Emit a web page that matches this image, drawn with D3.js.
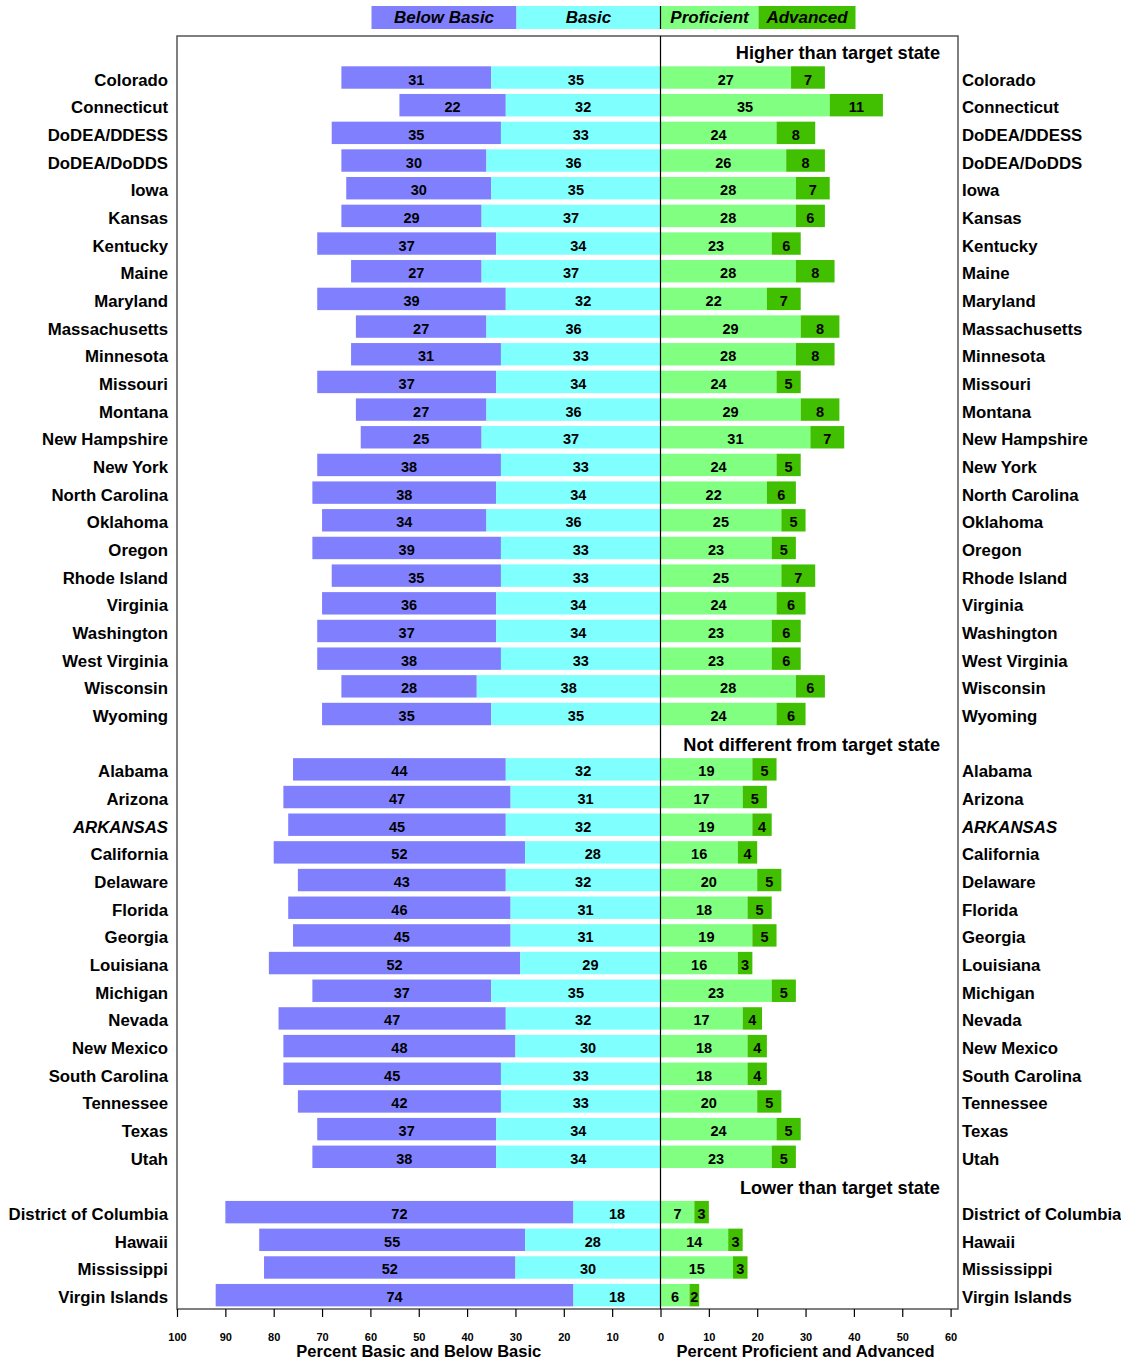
<!DOCTYPE html>
<html>
<head>
<meta charset="utf-8">
<script src="https://cdn.jsdelivr.net/npm/d3@7"></script>
<style>
  html, body { margin: 0; padding: 0; background: #fff; }
  svg { display: block; font-family: "Liberation Sans", Arial, sans-serif; }
</style>
</head>
<body>
<svg id="chart" width="1121" height="1361"></svg>
<script>
// Achievement levels, one row per jurisdiction: Below Basic, Basic, Proficient, Advanced (percent)
const groupTitles = ["Higher than target state", "Not different from target state", "Lower than target state"];

const higherStates = ["Colorado", "Connecticut", "DoDEA/DDESS", "DoDEA/DoDDS", "Iowa", "Kansas", "Kentucky", "Maine",
  "Maryland", "Massachusetts", "Minnesota", "Missouri", "Montana", "New Hampshire", "New York", "North Carolina",
  "Oklahoma", "Oregon", "Rhode Island", "Virginia", "Washington", "West Virginia", "Wisconsin", "Wyoming"];
const higherBelowBasic = [31, 22, 35, 30, 30, 29, 37, 27, 39, 27, 31, 37, 27, 25, 38, 38, 34, 39, 35, 36, 37, 38, 28, 35];
const higherBasic      = [35, 32, 33, 36, 35, 37, 34, 37, 32, 36, 33, 34, 36, 37, 33, 34, 36, 33, 33, 34, 34, 33, 38, 35];
const higherProficient = [27, 35, 24, 26, 28, 28, 23, 28, 22, 29, 28, 24, 29, 31, 24, 22, 25, 23, 25, 24, 23, 23, 28, 24];
const higherAdvanced   = [ 7, 11,  8,  8,  7,  6,  6,  8,  7,  8,  8,  5,  8,  7,  5,  6,  5,  5,  7,  6,  6,  6,  6,  6];

const sameStates = ["Alabama", "Arizona", "ARKANSAS", "California", "Delaware", "Florida", "Georgia", "Louisiana",
  "Michigan", "Nevada", "New Mexico", "South Carolina", "Tennessee", "Texas", "Utah"];
const sameBelowBasic = [44, 47, 45, 52, 43, 46, 45, 52, 37, 47, 48, 45, 42, 37, 38];
const sameBasic      = [32, 31, 32, 28, 32, 31, 31, 29, 35, 32, 30, 33, 33, 34, 34];
const sameProficient = [19, 17, 19, 16, 20, 18, 19, 16, 23, 17, 18, 18, 20, 24, 23];
const sameAdvanced   = [ 5,  5,  4,  4,  5,  5,  5,  3,  5,  4,  4,  4,  5,  5,  5];

const lowerStates = ["District of Columbia", "Hawaii", "Mississippi", "Virgin Islands"];
const lowerBelowBasic = [72, 55, 52, 74];
const lowerBasic      = [18, 28, 30, 18];
const lowerProficient = [ 7, 14, 15,  6];
const lowerAdvanced   = [ 3,  3,  3,  2];

const targetState = "ARKANSAS";

const levelNames = ["Below Basic", "Basic", "Proficient", "Advanced"];
const levelColors = ["#8080ff", "#80ffff", "#80ff80", "#40c000"];
const tickValues = [-100, -90, -80, -70, -60, -50, -40, -30, -20, -10, 0, 10, 20, 30, 40, 50, 60];
const axisTitles = ["Percent Basic and Below Basic", "Percent Proficient and Advanced"];

// Build the row list: a heading row followed by its jurisdictions
const rows = [];
function addGroup(title, names, bb, b, p, a) {
  rows.push({ key: "title:" + title, title: title });
  names.forEach((n, i) => rows.push({ key: n, name: n, bb: bb[i], b: b[i], p: p[i], a: a[i] }));
}
addGroup(groupTitles[0], higherStates, higherBelowBasic, higherBasic, higherProficient, higherAdvanced);
addGroup(groupTitles[1], sameStates, sameBelowBasic, sameBasic, sameProficient, sameAdvanced);
addGroup(groupTitles[2], lowerStates, lowerBelowBasic, lowerBasic, lowerProficient, lowerAdvanced);

const svg = d3.select("#chart");
const plot = { left: 177, right: 958, top: 36, bottom: 1309 };

const x = d3.scaleLinear().domain([-100, 60]).range([177, 950.6]);
const y = d3.scaleBand().domain(rows.map(r => r.key)).range([plot.top, plot.bottom])
  .paddingInner(0.19).paddingOuter(0.095);
const yc = k => y(k) + y.bandwidth() / 2;

// Plot frame
svg.append("rect")
  .attr("x", plot.left).attr("y", plot.top)
  .attr("width", plot.right - plot.left).attr("height", plot.bottom - plot.top)
  .attr("fill", "none").attr("stroke", "#555").attr("stroke-width", 1.5);

const stateRows = rows.filter(r => !r.title);

// Stacked segments: negative side (Basic nearest zero, then Below Basic), positive side (Proficient, then Advanced)
function segments(r) {
  return [
    { lvl: 0, x0: -(r.b + r.bb), x1: -r.b, v: r.bb },
    { lvl: 1, x0: -r.b, x1: 0, v: r.b },
    { lvl: 2, x0: 0, x1: r.p, v: r.p },
    { lvl: 3, x0: r.p, x1: r.p + r.a, v: r.a }
  ];
}

const rowG = svg.append("g").selectAll("g").data(stateRows).join("g")
  .attr("transform", d => `translate(0,${y(d.key)})`);

rowG.selectAll("rect").data(d => segments(d)).join("rect")
  .attr("x", s => x(s.x0))
  .attr("width", s => x(s.x1) - x(s.x0))
  .attr("height", y.bandwidth())
  .attr("fill", s => levelColors[s.lvl]);

rowG.selectAll("text").data(d => segments(d)).join("text")
  .attr("x", s => (x(s.x0) + x(s.x1)) / 2)
  .attr("y", y.bandwidth() / 2 + 7)
  .attr("text-anchor", "middle")
  .attr("font-size", 14.5).attr("font-weight", "bold")
  .text(s => s.v);

// Zero line
svg.append("line")
  .attr("x1", x(0)).attr("x2", x(0))
  .attr("y1", plot.top).attr("y2", plot.bottom)
  .attr("stroke", "#000").attr("stroke-width", 1.2);

// Jurisdiction labels on both sides
const labelStyle = sel => sel
  .attr("y", d => yc(d.key) + 8)
  .attr("font-size", 16.8).attr("font-weight", "bold")
  .attr("font-style", d => d.name === targetState ? "italic" : "normal")
  .text(d => d.name);

svg.append("g").selectAll("text").data(stateRows).join("text")
  .attr("x", 168).attr("text-anchor", "end").call(labelStyle);
svg.append("g").selectAll("text").data(stateRows).join("text")
  .attr("x", 962).attr("text-anchor", "start").call(labelStyle);

// Group headings
svg.append("g").selectAll("text").data(rows.filter(r => r.title)).join("text")
  .attr("x", 940).attr("y", d => yc(d.key) + 9.5)
  .attr("text-anchor", "end")
  .attr("font-size", 18.2).attr("font-weight", "bold")
  .text(d => d.title);

// Bottom axis
const axis = d3.axisBottom(x).tickValues(tickValues).tickSize(8).tickPadding(16)
  .tickFormat(v => Math.abs(v));
const axG = svg.append("g").attr("transform", `translate(0,${plot.bottom})`).call(axis);
axG.select(".domain").remove();
axG.selectAll(".tick line").attr("stroke", "#000").attr("stroke-width", 1.2);
axG.selectAll(".tick text")
  .attr("font-family", "Liberation Sans, Arial, sans-serif")
  .attr("font-size", 11).attr("font-weight", "bold").attr("fill", "#000");

svg.append("text").attr("x", (x(-100) + x(0)) / 2).attr("y", 1357)
  .attr("text-anchor", "middle").attr("font-size", 16.5).attr("font-weight", "bold")
  .text(axisTitles[0]);
svg.append("text").attr("x", (x(0) + x(60)) / 2).attr("y", 1357)
  .attr("text-anchor", "middle").attr("font-size", 16.5).attr("font-weight", "bold")
  .text(axisTitles[1]);

// Legend above the frame, split at the zero line
const legendWidths = [145, 144, 98, 97];
const legendX = [x(0) - legendWidths[1] - legendWidths[0], x(0) - legendWidths[1], x(0), x(0) + legendWidths[2]];
const leg = svg.append("g").selectAll("g").data(levelNames).join("g")
  .attr("transform", (d, i) => `translate(${legendX[i]},6)`);
leg.append("rect").attr("width", (d, i) => legendWidths[i]).attr("height", 23)
  .attr("fill", (d, i) => levelColors[i]);
leg.append("text").attr("x", (d, i) => legendWidths[i] / 2).attr("y", 17)
  .attr("text-anchor", "middle").attr("font-size", 17).attr("font-weight", "bold").attr("font-style", "italic")
  .text(d => d);
svg.append("line").attr("x1", x(0)).attr("x2", x(0)).attr("y1", 6).attr("y2", 29)
  .attr("stroke", "#000").attr("stroke-width", 1.2);
</script>
</body>
</html>
